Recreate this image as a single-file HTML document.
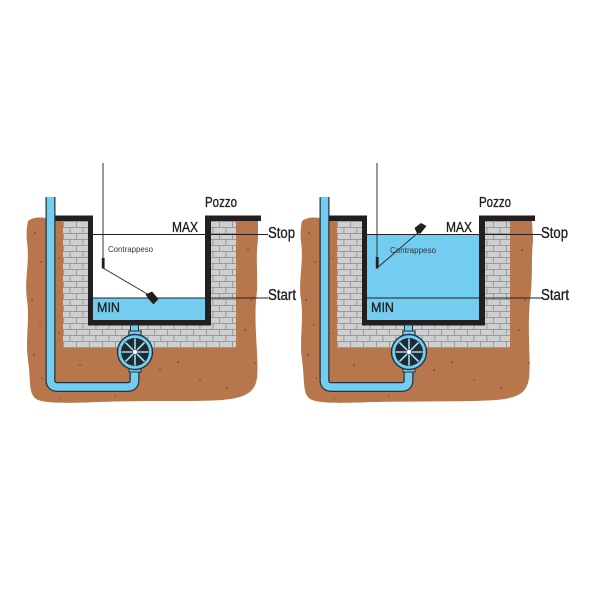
<!DOCTYPE html>
<html><head><meta charset="utf-8"><style>
html,body{margin:0;padding:0;background:#fff;}
svg{display:block;}
text{font-family:"Liberation Sans",Arial,sans-serif;fill:#231f20;}
text.lbl{stroke:#231f20;stroke-width:0.35;}
</style></head><body>
<svg width="600" height="600" viewBox="0 0 600 600" xmlns="http://www.w3.org/2000/svg">
<defs>
<pattern id="brick" x="63" y="221" width="13" height="12" patternUnits="userSpaceOnUse">
<rect width="13" height="12" fill="#cdcfd0"/>
<path d="M0,0.4H13M0,6.4H13M0.4,0V6.4M6.9,6.4V12" stroke="#909396" stroke-width="0.9" fill="none"/>
</pattern>
<g id="dots" fill="#7a3f22" opacity="0.7">
<circle cx="35" cy="233" r="1"/><circle cx="41" cy="262" r="0.9"/><circle cx="32" cy="300" r="1"/>
<circle cx="40" cy="325" r="0.9"/><circle cx="34" cy="355" r="1"/><circle cx="42" cy="378" r="0.9"/>
<circle cx="59" cy="258" r="0.8"/><circle cx="59" cy="333" r="0.8"/><circle cx="80" cy="365" r="1"/>
<circle cx="95" cy="383" r="0.9"/><circle cx="160" cy="370" r="1"/><circle cx="178" cy="362" r="1"/>
<circle cx="200" cy="380" r="0.9"/><circle cx="227" cy="388" r="1"/><circle cx="248" cy="250" r="1"/>
<circle cx="251" cy="300" r="0.9"/><circle cx="245" cy="330" r="1"/><circle cx="255" cy="363" r="0.9"/>
<circle cx="115" cy="396" r="0.8"/><circle cx="60" cy="398" r="0.8"/>
</g>
</defs>

<!-- ============ LEFT DIAGRAM ============ -->
<path d="M28,221 C33,217 40,217 46,218 L55,218 L55,221 L258,221 L258,240 C255,260 259,280 256,300 C254,330 259,360 257,378 C255,393 244,398 222,400 C190,402 150,400 100,402 C70,403 45,404 36,399 C28,393 31,380 28,360 C25,340 30,320 27,300 C24,280 30,262 27,242 C26,232 27,226 28,221 Z" fill="#b7764b"/>
<use href="#dots"/>
<rect x="63" y="221" width="173" height="127" fill="url(#brick)"/>
<rect x="93" y="212" width="112" height="108" fill="#ffffff"/>
<rect x="93" y="298" width="112" height="22" fill="#72cdf1"/>
<path d="M55,215.5 H93 V320 H205 V215.5 H261 V221 H211 V325.5 H88 V221 H55 Z" fill="#231f20"/>
<path d="M50.5,197 V380 Q50.5,387 57.5,387 H127.5 Q134.5,387 134.5,380 V370" fill="none" stroke="#23343f" stroke-width="10"/>
<path d="M50.5,197 V380 Q50.5,387 57.5,387 H127.5 Q134.5,387 134.5,380 V370" fill="none" stroke="#72cdf1" stroke-width="7.5"/>
<rect x="130.5" y="325" width="8" height="7" fill="#72cdf1" stroke="#23343f" stroke-width="1"/>
<rect x="129" y="331" width="12" height="5" fill="#72cdf1" stroke="#23343f" stroke-width="1"/>
<rect x="129" y="367" width="12" height="5" fill="#72cdf1" stroke="#23343f" stroke-width="1"/>
<circle cx="135" cy="352" r="17.5" fill="#72cdf1" stroke="#23343f" stroke-width="1.4"/>
<circle cx="135" cy="352" r="14" fill="#1f2a33"/>
<g stroke="#9fdcf3" stroke-width="1.6">
<path d="M135,338.5V365.5M121.5,352H148.5M125.5,342.5L144.5,361.5M144.5,342.5L125.5,361.5"/>
</g>
<circle cx="135" cy="352" r="2.6" fill="#fff" stroke="#23343f" stroke-width="0.6"/>
<line x1="93" y1="234.5" x2="268" y2="234.5" stroke="#231f20" stroke-width="0.9"/>
<line x1="93" y1="298" x2="268" y2="298" stroke="#231f20" stroke-width="0.9"/>
<line x1="103" y1="163" x2="103" y2="268" stroke="#333" stroke-width="1"/>
<rect x="101.8" y="258" width="2.8" height="10.5" fill="#231f20"/>
<line x1="103" y1="268" x2="149" y2="295" stroke="#333" stroke-width="1"/>
<polygon points="145.5,294.5 152,291.5 158.5,299 153.5,304.5 148.5,299" fill="#231f20"/>
<text class="lbl" x="205" y="207" font-size="14.5" textLength="32" lengthAdjust="spacingAndGlyphs">Pozzo</text>
<text class="lbl" x="172" y="232" font-size="15" textLength="26" lengthAdjust="spacingAndGlyphs">MAX</text>
<text class="lbl" x="268" y="238" font-size="15.5" textLength="27" lengthAdjust="spacingAndGlyphs">Stop</text>
<text class="lbl" x="268" y="300" font-size="15.5" textLength="28" lengthAdjust="spacingAndGlyphs">Start</text>
<text class="lbl" x="97" y="312" font-size="14" textLength="23" lengthAdjust="spacingAndGlyphs">MIN</text>
<text x="108" y="252" font-size="8" textLength="45" lengthAdjust="spacingAndGlyphs" style="fill:#333">Contrappeso</text>

<!-- ============ RIGHT DIAGRAM ============ -->
<g transform="translate(274,0)">
<path d="M28,221 C33,217 40,217 46,218 L55,218 L55,221 L258,221 L259,240 C257,260 259,280 256,300 C253,330 257,360 255,378 C253,393 244,398 222,400 C190,402 150,401 100,402 C70,403 45,404 36,399 C28,393 31,380 28,360 C25,340 30,320 27,300 C24,280 30,262 27,242 C26,232 27,226 28,221 Z" fill="#b7764b"/>
<use href="#dots"/>
<rect x="63" y="221" width="173" height="127" fill="url(#brick)"/>
<rect x="93" y="212" width="112" height="108" fill="#ffffff"/>
<rect x="93" y="234" width="112" height="86" fill="#72cdf1"/>
<path d="M55,215.5 H93 V320 H205 V215.5 H261 V221 H211 V325.5 H88 V221 H55 Z" fill="#231f20"/>
<path d="M50.5,197 V380 Q50.5,387 57.5,387 H127.5 Q134.5,387 134.5,380 V370" fill="none" stroke="#23343f" stroke-width="10"/>
<path d="M50.5,197 V380 Q50.5,387 57.5,387 H127.5 Q134.5,387 134.5,380 V370" fill="none" stroke="#72cdf1" stroke-width="7.5"/>
<rect x="130.5" y="325" width="8" height="7" fill="#72cdf1" stroke="#23343f" stroke-width="1"/>
<rect x="129" y="331" width="12" height="5" fill="#72cdf1" stroke="#23343f" stroke-width="1"/>
<rect x="129" y="367" width="12" height="5" fill="#72cdf1" stroke="#23343f" stroke-width="1"/>
<circle cx="135" cy="352" r="17.5" fill="#72cdf1" stroke="#23343f" stroke-width="1.4"/>
<circle cx="135" cy="352" r="14" fill="#1f2a33"/>
<g stroke="#9fdcf3" stroke-width="1.6">
<path d="M135,338.5V365.5M121.5,352H148.5M125.5,342.5L144.5,361.5M144.5,342.5L125.5,361.5"/>
</g>
<circle cx="135" cy="352" r="2.6" fill="#fff" stroke="#23343f" stroke-width="0.6"/>
<line x1="93" y1="234.5" x2="268" y2="234.5" stroke="#231f20" stroke-width="0.9"/>
<line x1="93" y1="298" x2="268" y2="298" stroke="#231f20" stroke-width="0.9"/>
<line x1="103" y1="163" x2="103" y2="268" stroke="#333" stroke-width="1"/>
<rect x="101.8" y="257" width="2.8" height="11.5" fill="#231f20"/>
<line x1="103" y1="268" x2="145" y2="232" stroke="#333" stroke-width="1"/>
<polygon points="143,233.5 140.5,228 147,223 152.5,226 146.5,233.5" fill="#231f20"/>
<text class="lbl" x="205" y="207" font-size="14.5" textLength="32" lengthAdjust="spacingAndGlyphs">Pozzo</text>
<text class="lbl" x="172" y="232" font-size="15" textLength="26" lengthAdjust="spacingAndGlyphs">MAX</text>
<text class="lbl" x="267" y="238" font-size="15.5" textLength="27" lengthAdjust="spacingAndGlyphs">Stop</text>
<text class="lbl" x="267" y="300" font-size="15.5" textLength="28" lengthAdjust="spacingAndGlyphs">Start</text>
<text class="lbl" x="97" y="312" font-size="14" textLength="23" lengthAdjust="spacingAndGlyphs">MIN</text>
<text x="116" y="253" font-size="8" textLength="46" lengthAdjust="spacingAndGlyphs" style="fill:#333">Contrappeso</text>
</g>
</svg>
</body></html>
